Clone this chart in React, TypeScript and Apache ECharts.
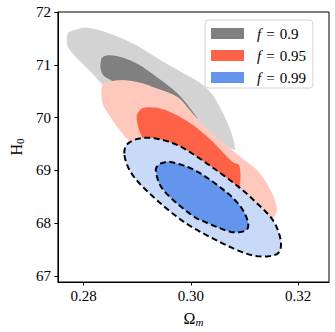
import React, { useEffect, useRef } from "react";
import * as echarts from "echarts";

// Contour outlines, in data coordinates [Omega_m, H0]
const grayOuter: number[][] = [
  [0.277, 71.58], [0.2778, 71.64], [0.2799, 71.7], [0.282, 71.68], [0.2841, 71.62],
  [0.2872, 71.5], [0.2902, 71.35], [0.2932, 71.16], [0.2962, 70.98], [0.2993, 70.8],
  [0.3014, 70.68], [0.3029, 70.56], [0.3044, 70.38], [0.3062, 70.04], [0.3075, 69.73],
  [0.3081, 69.51], [0.3082, 69.43], [0.3078, 69.4], [0.3023, 69.6], [0.2962, 69.92],
  [0.2902, 70.23], [0.2859, 70.45], [0.2834, 70.64], [0.2817, 70.83], [0.2799, 71.01],
  [0.2781, 71.2], [0.277, 71.36],
];
const grayInner: number[][] = [
  [0.2832, 71.04], [0.2835, 71.14], [0.2847, 71.18], [0.2872, 71.14], [0.2902, 71.01],
  [0.2932, 70.8], [0.2975, 70.46], [0.3005, 70.09], [0.3008, 69.98], [0.295, 70.23],
  [0.2902, 70.48], [0.2859, 70.67], [0.2838, 70.79], [0.2832, 70.92],
];
const redOuter: number[][] = [
  [0.2835, 70.61], [0.285, 70.68], [0.2872, 70.71], [0.2902, 70.67], [0.2932, 70.57],
  [0.2975, 70.39], [0.3005, 70.06], [0.3035, 69.75], [0.3065, 69.48], [0.3096, 69.23],
  [0.3126, 68.98], [0.315, 68.6], [0.3159, 68.35], [0.3159, 68.19], [0.3144, 68.1],
  [0.3084, 68.35], [0.3023, 68.66], [0.2962, 69.04], [0.2914, 69.35], [0.2884, 69.57],
  [0.2868, 69.76], [0.285, 70.01], [0.2835, 70.29],
];
const redInner: number[][] = [
  [0.2899, 69.98], [0.2902, 70.1], [0.2914, 70.19], [0.2944, 70.17], [0.2975, 70.04],
  [0.3005, 69.85], [0.3035, 69.6], [0.3059, 69.35], [0.3078, 69.16], [0.3091, 69.07],
  [0.3091, 68.69], [0.3078, 68.66], [0.3023, 68.88], [0.2962, 69.19], [0.292, 69.48],
  [0.2905, 69.73],
];
const blueOuter: number[][] = [
  [0.2876, 69.32], [0.2882, 69.5], [0.2902, 69.6], [0.2932, 69.61], [0.2975, 69.48],
  [0.3023, 69.18], [0.3084, 68.73], [0.312, 68.41], [0.315, 68.1], [0.3164, 67.82],
  [0.3168, 67.57], [0.3161, 67.42], [0.3138, 67.37], [0.3108, 67.41], [0.3065, 67.59],
  [0.3005, 67.91], [0.2968, 68.17], [0.2932, 68.48], [0.2902, 68.78], [0.2884, 69.04],
];
const blueInner: number[][] = [
  [0.2935, 68.98], [0.2939, 69.1], [0.295, 69.15], [0.2962, 69.16], [0.2993, 69.07],
  [0.3023, 68.91], [0.3065, 68.6], [0.309, 68.35], [0.3103, 68.13], [0.3107, 67.94],
  [0.3099, 67.85], [0.3078, 67.83], [0.3053, 67.91], [0.3023, 68.04], [0.3005, 68.13],
  [0.2968, 68.43], [0.2944, 68.7],
];

const legendNames = ["f = 0.9", "f = 0.95", "f = 0.99"];
const legendValues = ["0.9", "0.95", "0.99"];
const darkColors = ["#808080", "#ff6347", "#6495ed"];
const lightColors = ["#d3d3d3", "#ffc8bd", "#c9d9f8"];
const xTicks = [0.28, 0.3, 0.32];
const yTicks = [67, 68, 69, 70, 71, 72];

const FONT = "Liberation Serif";

// closed Catmull-Rom curve through pixel points (drawing only)
function closedSpline(p: number[][], segs: number): number[][] {
  const n = p.length;
  const out: number[][] = [];
  for (let i = 0; i < n; i++) {
    const p0 = p[(i - 1 + n) % n];
    const p1 = p[i];
    const p2 = p[(i + 1) % n];
    const p3 = p[(i + 2) % n];
    for (let s = 0; s < segs; s++) {
      const t = s / segs;
      const t2 = t * t;
      const t3 = t2 * t;
      const c = (a: number, b: number, cc: number, d: number) =>
        0.5 * (2 * b + (-a + cc) * t + (2 * a - 5 * b + 4 * cc - d) * t2 + (-a + 3 * b - 3 * cc + d) * t3);
      out.push([c(p0[0], p1[0], p2[0], p3[0]), c(p0[1], p1[1], p2[1], p3[1])]);
    }
  }
  return out;
}

function contourSeries(name: string, pts: number[][], fill: string, dashed: boolean) {
  return {
    type: "custom",
    name,
    itemStyle: { color: fill },
    data: [[pts[0][0], pts[0][1]]],
    renderItem: (_params: any, api: any) => ({
      type: "polygon",
      shape: { points: closedSpline(pts.map((p) => api.coord(p)), 8) },
      style: dashed
        ? { fill, stroke: "#000", lineWidth: 2, lineDash: [6, 3.5] }
        : { fill },
    }),
  };
}

export default function App() {
  const ref = useRef<HTMLDivElement>(null);
  useEffect(() => {
    const chart = echarts.init(ref.current!, null, { renderer: "svg" });
    chart.setOption({
      animation: false,
      backgroundColor: "#fff",
      grid: {
        left: 51,
        right: 6,
        top: 12,
        bottom: 48,
        show: true,
        borderColor: "#000",
        borderWidth: 1,
        backgroundColor: "transparent",
      },
      legend: {
        orient: "vertical",
        left: 205,
        top: 20,
        icon: "rect",
        itemWidth: 33,
        itemHeight: 11,
        itemGap: 7,
        padding: [6, 7, 3, 6],
        backgroundColor: "#fff",
        borderColor: "#d4d4d4",
        borderWidth: 1,
        borderRadius: 3,
        data: legendNames.map((n, i) => ({ name: n, itemStyle: { color: darkColors[i] } })),
        formatter: (name: string) => {
          const i = legendNames.indexOf(name);
          return `{i|f}{e|=}{v|${legendValues[i]}}`;
        },
        textStyle: {
          fontFamily: FONT,
          fontSize: 15,
          color: "#000",
          rich: {
            i: { fontFamily: FONT, fontSize: 15, fontStyle: "italic", padding: [0, 0, 0, 8], color: "#000" },
            e: { fontFamily: FONT, fontSize: 15, padding: [0, 5, 0, 5], color: "#000" },
            v: { fontFamily: FONT, fontSize: 15, color: "#000" },
          },
        },
      },
      xAxis: {
        type: "value",
        min: 0.27522,
        max: 0.32576,
        name: "Ω{s|m}",
        nameLocation: "middle",
        nameGap: 27,
        nameTextStyle: {
          fontFamily: FONT,
          fontSize: 16,
          color: "#000",
          rich: { s: { fontFamily: FONT, fontSize: 11, fontStyle: "italic", padding: [7, 0, 0, 0], color: "#000" } },
        },
        splitLine: { show: false },
        axisLine: { show: true, onZero: false, lineStyle: { color: "#000", width: 1 } },
        axisTick: { show: true, length: 3.5, customValues: xTicks, lineStyle: { color: "#000" } },
        axisLabel: {
          customValues: xTicks,
          formatter: (v: number) => v.toFixed(2),
          fontFamily: FONT,
          fontSize: 15,
          color: "#000",
          margin: 6,
        },
      },
      yAxis: {
        type: "value",
        min: 66.887,
        max: 72,
        name: "H{s|0}",
        nameLocation: "middle",
        nameRotate: 90,
        nameGap: 28,
        nameTextStyle: {
          fontFamily: FONT,
          fontSize: 16,
          color: "#000",
          rich: { s: { fontFamily: FONT, fontSize: 11, padding: [7, 0, 0, 0], color: "#000" } },
        },
        splitLine: { show: false },
        axisLine: { show: true, onZero: false, lineStyle: { color: "#000", width: 1 } },
        axisTick: { show: true, length: 3.5, customValues: yTicks, lineStyle: { color: "#000" } },
        axisLabel: {
          customValues: yTicks,
          formatter: (v: number) => String(Math.round(v)),
          fontFamily: FONT,
          fontSize: 15,
          color: "#000",
          margin: 7,
        },
      },
      series: [
        contourSeries(legendNames[0], grayOuter, lightColors[0], false),
        contourSeries(legendNames[0], grayInner, darkColors[0], false),
        contourSeries(legendNames[1], redOuter, lightColors[1], false),
        contourSeries(legendNames[1], redInner, darkColors[1], false),
        contourSeries(legendNames[2], blueOuter, lightColors[2], true),
        contourSeries(legendNames[2], blueInner, darkColors[2], true),
      ],
    });
    return () => chart.dispose();
  }, []);
  return (
    <div
      ref={ref}
      style={{ position: "fixed", left: 0, top: 0, width: 335, height: 332 }}
    />
  );
}
